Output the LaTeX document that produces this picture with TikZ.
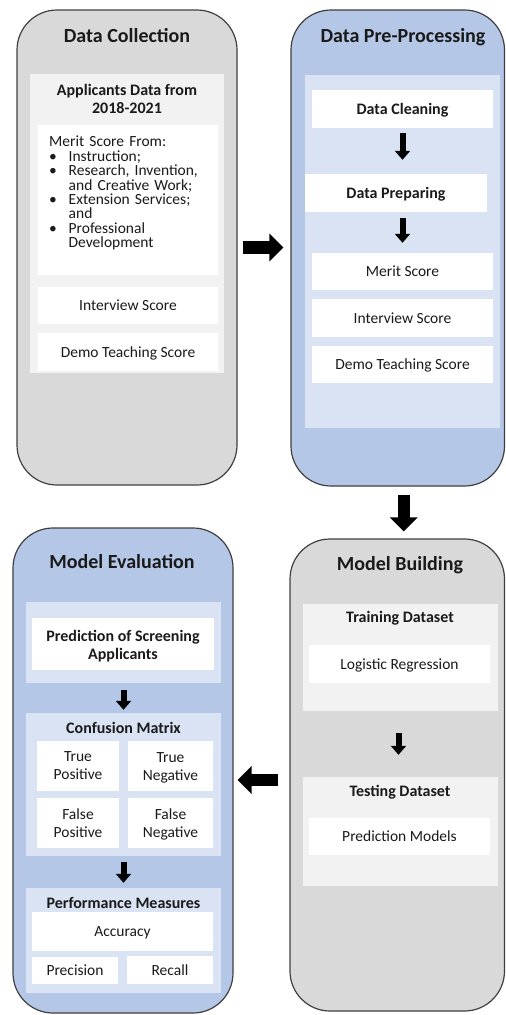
\documentclass[tikz,border=0pt]{standalone}
\usepackage{fontspec}
\setmainfont{Carlito}
\usetikzlibrary{arrows.meta,fit}

\definecolor{panelgray}{HTML}{D9D9D9}
\definecolor{panelblue}{HTML}{B4C7E7}
\definecolor{innergray}{HTML}{F2F2F2}
\definecolor{innerblue}{HTML}{DAE3F3}
\definecolor{edge}{HTML}{404040}
\definecolor{ink}{HTML}{1A1A1A}

% bullet with a hanging indent for the merit list
\newcommand{\bul}{\makebox[19.5pt][l]{\textbullet}}
\newcommand{\hang}{\hspace*{19.5pt}}

\tikzset{
  panel/.style={draw=edge, line width=1.2pt, rounded corners=40pt, inner sep=0pt},
  graypanel/.style={panel, fill=panelgray},
  bluepanel/.style={panel, fill=panelblue},
  holder/.style={inner sep=0pt, draw=none},
  grayholder/.style={holder, fill=innergray},
  blueholder/.style={holder, fill=innerblue},
  card/.style={holder, fill=white},
  cardtext/.style={inner sep=0pt, text=ink,
    font=\fontsize{15.5}{18}\selectfont, text height=10pt, text depth=0pt},
  boldtext/.style={cardtext, font=\fontsize{16}{17.5}\selectfont\bfseries, text height=10.5pt},
  twolines/.style={text height={}, text depth={}, align=center},
  title/.style={inner sep=0pt, text=ink,
    font=\fontsize{20}{24}\selectfont\bfseries, text height=13pt, text depth=0pt},
  minor/.style={draw=black, line width=6pt, -{Triangle[width=15pt,length=9pt]}},
  major/.style={draw=black, line width=12.5pt, -{Triangle[width=27pt,length=14pt]}},
}

\begin{document}
\begin{tikzpicture}[x=1pt,y=-1pt]
\useasboundingbox (0,0) rectangle (506,1015);
\fill[white] (0,0) rectangle (506,1015);

% ---------------- Data Collection ----------------
\node[graypanel, fit={(17,10) (237,485)}] (collect) {};
\node[title] (collectT) at (127,36) {Data Collection};
\node[grayholder, fit={(30,74) (224,373)}] (applicants) {};
\node[boldtext, twolines] (applicantsT) at (127,99) {Applicants Data from\\2018-2021};
\node[card, fit={(38,125) (218,275)}] (merit) {};
\node[anchor=north west, inner sep=0pt, text=ink, text width=175pt, align=left,
      font=\fontsize{15.5}{14.4}\selectfont] (meritT) at (49,136)
  {\lineskiplimit=-20pt\relax
   Merit Score From:\\
   \bul Instruction;\\
   \bul Research, Invention,\\
   \hang and Creative Work;\\
   \bul Extension Services;\\
   \hang and\\
   \bul Professional\\
   \hang Development};
\node[card, fit={(38,287) (218,324)}] (interview) {};
\node[cardtext] (interviewT) at (interview.center) {Interview Score};
\node[card, fit={(38,333) (218,371)}] (demo) {};
\node[cardtext] (demoT) at (demo.center) {Demo Teaching Score};

% ---------------- Data Pre-Processing ----------------
\node[bluepanel, fit={(291,10) (504.5,486)}] (prep) {};
\node[title] (prepT) at (403,36) {Data Pre-Processing};
\node[blueholder, fit={(305,75) (500,428)}] (prepIn) {};
\node[card, fit={(312,90) (493,128)}] (cleaning) {};
\node[boldtext] (cleaningT) at (cleaning.center) {Data Cleaning};
\node[card, fit={(305,174) (487,212)}] (preparing) {};
\node[boldtext] (preparingT) at (preparing.center) {Data Preparing};
\node[card, fit={(312,253) (493,290)}] (meritS) {};
\node[cardtext] (meritST) at (meritS.center) {Merit Score};
\node[card, fit={(312,299) (493,337)}] (interviewS) {};
\node[cardtext] (interviewST) at (interviewS.center) {Interview Score};
\node[card, fit={(312,346) (493,383)}] (demoS) {};
\node[cardtext] (demoST) at (demoS.center) {Demo Teaching Score};
\draw[minor, shorten <=5pt, shorten >=14pt] (cleaning.south) -- (cleaning.south |- preparing.north);
\draw[minor, shorten <=6pt, shorten >=10pt] (meritS.north |- preparing.south) -- (meritS.north);

% ---------------- Model Building ----------------
\node[graypanel, fit={(290,539) (504.5,1011)}] (build) {};
\node[title] (buildT) at (400,564) {Model Building};
\node[grayholder, fit={(303,604) (498,711)}] (train) {};
\node[boldtext] (trainT) at (400,617) {Training Dataset};
\node[card, fit={(309,645) (490,683)}] (logit) {};
\node[cardtext] (logitT) at (logit.center) {Logistic Regression};
\node[grayholder, fit={(303,777) (498,886)}] (test) {};
\node[boldtext] (testT) at (400,791) {Testing Dataset};
\node[card, fit={(309,818) (490,855)}] (models) {};
\node[cardtext] (modelsT) at (models.center) {Prediction Models};
\draw[minor, shorten <=22pt, shorten >=22pt] ([xshift=-2pt]train.south) -- ([xshift=-2pt]test.north);

% ---------------- Model Evaluation ----------------
\node[bluepanel, fit={(13,528) (233,1013)}] (eval) {};
\node[title] (evalT) at (122,562) {Model Evaluation};
\node[blueholder, fit={(26,602) (221,683)}] (screen) {};
\node[card, fit={(32,618) (214,670)}] (screenW) {};
\node[boldtext, twolines] (screenT) at ([yshift=-2pt]screenW.center) {Prediction of Screening\\Applicants};
\node[blueholder, fit={(26,713) (221,856)}] (confusion) {};
\node[boldtext] (confusionT) at (123.5,728) {Confusion Matrix};
\node[card, fit={(37,741) (119,791)}] (tp) {};
\node[cardtext, twolines] (tpT) at (tp.center) {True\\Positive};
\node[card, fit={(128,741) (213,791)}] (tn) {};
\node[cardtext, twolines] (tnT) at ([yshift=-1.5pt]tn.center) {True\\Negative};
\node[card, fit={(37,798) (119,848)}] (fp) {};
\node[cardtext, twolines] (fpT) at (fp.center) {False\\Positive};
\node[card, fit={(128,798) (213,848)}] (fn) {};
\node[cardtext, twolines] (fnT) at ([yshift=-1.5pt]fn.center) {False\\Negative};
\node[blueholder, fit={(26,888) (221,993)}] (measures) {};
\node[boldtext] (measuresT) at (123.5,903) {Performance Measures};
\node[card, fit={(32,912) (213,951)}] (accuracy) {};
\node[cardtext] (accuracyT) at (accuracy.center) {Accuracy};
\node[card, fit={(32,957) (118,984)}] (precision) {};
\node[cardtext] (precisionT) at (precision.center) {Precision};
\node[card, fit={(127,956) (213,984)}] (recall) {};
\node[cardtext] (recallT) at (recall.center) {Recall};
\draw[minor, shorten <=7pt, shorten >=3pt] (screen.south) -- (confusion.north);
\draw[minor, shorten <=6pt, shorten >=5pt] (confusion.south) -- (measures.north);

% ---------------- flow between the stages ----------------
\draw[major, shorten <=5pt, shorten >=7pt] (collect.east) -- (collect.east -| prep.west);
\draw[major, shorten <=8pt, shorten >=7pt] ([xshift=6pt]prep.south) -- ([xshift=6pt]prep.south |- build.north);
\coordinate (backlevel) at (260,780);
\draw[major, shorten <=11pt, shorten >=4pt] (build.west |- backlevel) -- (eval.east |- backlevel);
\end{tikzpicture}
\end{document}
